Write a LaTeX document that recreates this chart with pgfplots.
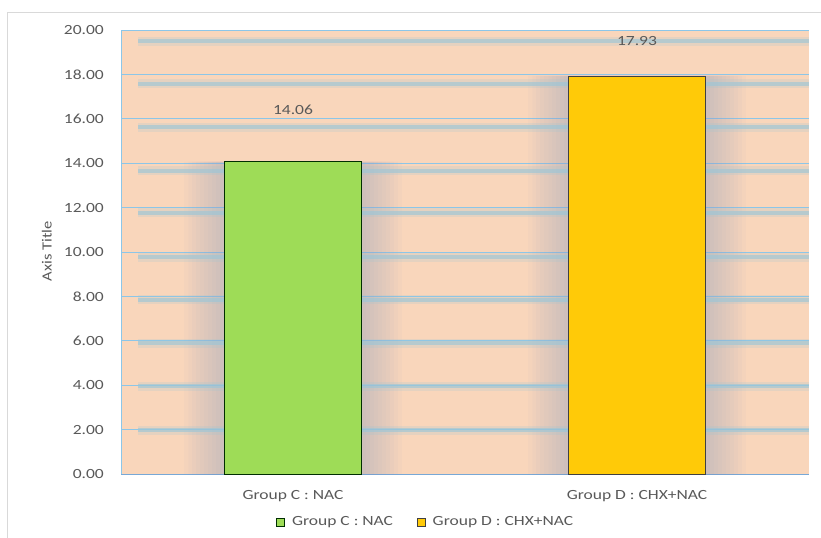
\documentclass[border=0pt]{standalone}
\usepackage{pgfplots}
\pgfplotsset{compat=1.18}
\usepackage{fontspec}
\setmainfont{Carlito}[FakeStretch=1.25]
\newfontfamily\plainfont{Carlito}[FakeStretch=1.18]

\definecolor{txt}{RGB}{89,89,89}
\definecolor{peach}{RGB}{249,214,187}
\definecolor{gridblue}{RGB}{140,198,232}
\definecolor{axisblue}{RGB}{120,168,214}
\definecolor{glow}{RGB}{158,198,214}
\definecolor{halo}{RGB}{140,160,200}
\definecolor{barGreen}{RGB}{158,220,87}
\definecolor{barGold}{RGB}{255,202,8}
\definecolor{frame}{RGB}{217,217,217}

\pgfplotsset{/pgf/number format/assume math mode=true}
\newcommand{\lbl}{\fontsize{14bp}{17bp}\selectfont\color{txt}}

\begin{document}
\begin{tikzpicture}
\useasboundingbox (0,0) rectangle (821bp,-538bp);
\draw[frame, line width=1bp] (7bp,-12bp) rectangle (860bp,-580bp);

\begin{axis}[
  at={(121bp,-474bp)}, anchor=south west,
  scale only axis, width=688bp, height=444bp,
  xmin=-0.5, xmax=1.5, ymin=0, ymax=20,
  xtick={0,1},
  xticklabels={Group C : NAC, Group D : CHX+NAC},
  ytick distance=2,
  yticklabel style={/pgf/number format/fixed, /pgf/number format/fixed zerofill, /pgf/number format/precision=2},
  y tick label style={inner sep=0pt, anchor=east, xshift=-17bp, font=\lbl},
  x tick label style={inner sep=0pt, anchor=base, yshift=-25bp, font=\lbl},
  major tick length=0pt,
  separate axis lines,
  axis x line*=bottom, axis y line*=left,
  x axis line style={axisblue, line width=1bp, -},
  y axis line style={gridblue, line width=1bp, -},
  ymajorgrids, grid style={gridblue, line width=1bp},
  axis background/.style={fill=peach},
  ylabel={\plainfont Axis Title},
  every axis y label/.style={at={(axis description cs:-0.108,0.502)}, rotate=90, anchor=center, font=\lbl},
  legend style={at={(axis description cs:0.443,-0.108)}, anchor=center, draw=none, fill=none,
    legend columns=2, font=\lbl,
    /tikz/every odd column/.append style={column sep=5bp},
    /tikz/every even column/.append style={column sep=22bp},
    legend cell align=left},
  legend image code/.code={\draw[#1, line width=0.7bp] (0bp,-4bp) rectangle (8bp,4bp);},
]

% soft halo around the bars: stacked translucent strips
\pgfplotsinvokeforeach{0.423,0.447,0.470,0.493,0.516,0.540,0.563,0.586,0.609,0.633}{
  \addplot[ybar, bar width=#1, bar shift=0pt, draw=none, fill=halo, fill opacity=0.042, forget plot]
    coordinates {(0,14.06) (1,17.93)};
}

% blurred glow lines below the gridlines
\pgfplotsinvokeforeach{19.50,17.57,15.63,13.65,11.76,9.77,7.84,5.90,3.96,1.98}{
  \addplot[glow, line width=9bp, opacity=0.22, forget plot] coordinates {(-0.45,#1) (1.5,#1)};
  \addplot[glow, line width=4.5bp, opacity=0.65, forget plot] coordinates {(-0.45,#1) (1.5,#1)};
}

% bars
\addplot[ybar, bar width=0.4, bar shift=0pt, fill=barGreen, draw=black!70!green!60!black, line width=0.8bp,
  nodes near coords={\pgfmathprintnumber[fixed,fixed zerofill,precision=2]{\pgfplotspointmeta}},
  every node near coord/.append style={anchor=center, yshift=52bp, font=\lbl}]
  coordinates {(0,14.06)};
\addlegendentry{Group C : NAC}
\addplot[ybar, bar width=0.4, bar shift=0pt, fill=barGold, draw=black!75, line width=0.8bp,
  nodes near coords={\pgfmathprintnumber[fixed,fixed zerofill,precision=2]{\pgfplotspointmeta}},
  every node near coord/.append style={anchor=center, yshift=35bp, font=\lbl}]
  coordinates {(1,17.93)};
\addlegendentry{Group D : CHX+NAC}
\end{axis}
\end{tikzpicture}
\end{document}
